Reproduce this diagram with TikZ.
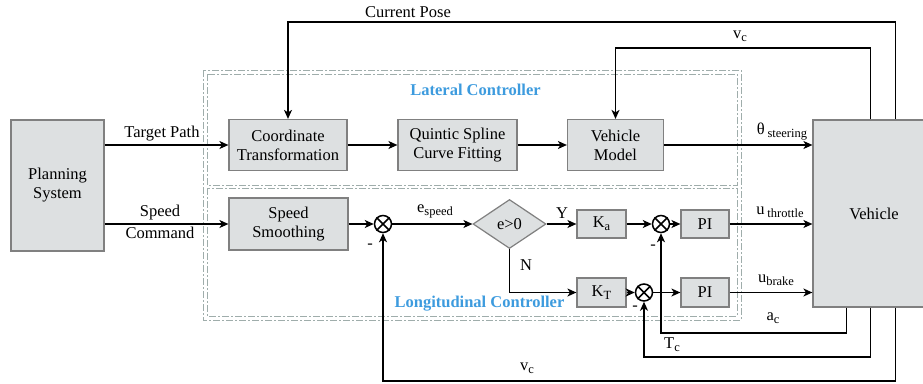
\documentclass[tikz,border=0pt]{standalone}
\usepackage{fontspec}
\setmainfont{Liberation Serif}
\usetikzlibrary{shapes.geometric,arrows.meta}
\definecolor{boxfill}{HTML}{DDE0E1}
\definecolor{boxline}{HTML}{808080}
\definecolor{frame}{HTML}{9FADAB}
\definecolor{ctrlblue}{HTML}{3D9BDE}
\newcommand\sbx[1]{\raisebox{-3pt}{\fontsize{12.5}{13}\selectfont #1}}
\begin{document}
\begin{tikzpicture}[x=1pt,y=-1pt, font=\fontsize{16.5}{19}\selectfont,
 blk/.style={draw=boxline, fill=boxfill, line width=1.2pt, inner sep=0pt, align=center},
 sumn/.style={circle, draw, line width=1.5pt, minimum size=17pt, inner sep=0pt},
 arr/.style={line width=1.4pt, -{Stealth[length=9pt,width=8pt,inset=2.5pt]}},
 ln/.style={line width=1.4pt},
 frm/.style={draw=frame, line width=1pt, dash pattern=on 7pt off 2pt on 2pt off 2pt},
 ttl/.style={text=ctrlblue, font=\fontsize{16.5}{19}\selectfont\bfseries},
 lbl/.style={inner sep=0pt}
]
\useasboundingbox (0,0) rectangle (923,383);
% frames
\draw[frm] (203,70) rectangle (741,320);
\draw[frm] (207,74) rectangle (737,185);
\draw[frm] (207,188) rectangle (737,316);
\node[ttl] (latt) at (475.5,90) {Lateral Controller};
\node[ttl] (lont) at (479.5,304) {Longitudinal Controller};
% blocks
\node[blk, minimum width=93pt, minimum height=131pt] (plan) at (57.5,185.5) {Planning\\System};
\node[blk, minimum width=118pt, minimum height=51pt] (coord) at (288,145) {Coordinate\\Transformation};
\node[blk, minimum width=119pt, minimum height=51pt] (quin) at (457.5,145) {Quintic Spline\\Curve Fitting};
\node[blk, minimum width=96pt, minimum height=51pt] (vm) at (615.5,145) {Vehicle\\Model};
\node[blk, minimum width=122pt, minimum height=187pt] (veh) at (874,213.5) {Vehicle};
\node[blk, minimum width=119pt, minimum height=52pt] (smooth) at (288.5,224) {Speed\\Smoothing};
\node[sumn] (s1) at (383,224) {};
\node[diamond, draw=boxline, fill=boxfill, line width=1.2pt, minimum width=73pt, minimum height=49pt, inner sep=0pt] (dia) at (509.5,224) {e>0};
\node[blk, minimum width=49pt, minimum height=28pt] (ka) at (601.5,224) {K\sbx{a}};
\node[sumn] (s2) at (661,224) {};
\node[blk, minimum width=48pt, minimum height=28pt] (pi1) at (705,224) {PI};
\node[blk, minimum width=49pt, minimum height=29pt] (kt) at (601.5,292.5) {K\sbx{T}};
\node[sumn] (s3) at (644,292.5) {};
\node[blk, minimum width=48pt, minimum height=29pt] (pi2) at (705,292.5) {PI};
\foreach \s in {s1,s2,s3}{
  \draw[line width=1.5pt] (\s.north east) -- (\s.south west) (\s.north west) -- (\s.south east);
}
% forward connectors
\draw[arr] (plan.east |- coord.west) -- (coord.west);
\draw[arr] (coord.east) -- (quin.west);
\draw[arr] (quin.east) -- (vm.west);
\draw[arr] (vm.east) -- (veh.west |- vm.east);
\draw[arr] (plan.east |- smooth.west) -- (smooth.west);
\draw[arr] (smooth.east) -- (s1.west);
\draw[arr] (s1.east) -- (dia.west);
\draw[arr] (dia.east) -- (ka.west);
\draw[arr] (dia.south) |- (kt.west);
\draw[arr] (ka.east) -- (s2.west);
\draw[arr] (s2.east) -- (pi1.west);
\draw[arr] (pi1.east) -- (veh.west |- pi1.east);
\draw[arr] (kt.east) -- (s3.west);
\draw[arr] (s3.east) -- (pi2.west);
\draw[arr] (pi2.east) -- (veh.west |- pi2.east);
% feedback connectors
\draw[arr] ([xshift=83pt]veh.north west) |- (288,22) -- (coord.north);
\draw[arr] ([xshift=58pt]veh.north west) |- (615.5,48) -- (vm.north);
\draw[arr] ([xshift=34pt]veh.south west) |- (661,333) -- (s2.south);
\draw[arr] ([xshift=58pt]veh.south west) |- (644,357) -- (s3.south);
\draw[arr] ([xshift=83pt]veh.south west) |- (383,381) -- (s1.south);
% labels
\node[lbl] (lcp) at (408,12) {Current Pose};
\node[lbl] (lvc1) at (740,36) {v\sbx{c}};
\node[lbl] (lth) at (782,132) {θ\,\sbx{steering}};
\node[lbl] (ltp) at (162,134) {Target Path};
\node[lbl] (lsp) at (160,213) {Speed};
\node[lbl] (lcm) at (160,233) {Command};
\node[lbl] (les) at (435,211) {e\sbx{speed}};
\node[lbl] (ly) at (562,213) {Y};
\node[lbl] (ln) at (526,265) {N};
\node[lbl] (lut) at (780,212) {u\,\sbx{throttle}};
\node[lbl] (lub) at (776,280) {u\sbx{brake}};
\node[lbl] (lac) at (773,318) {a\sbx{c}};
\node[lbl] (ltc) at (672,345) {T\sbx{c}};
\node[lbl] (lvc2) at (527,368) {v\sbx{c}};
\node[lbl] (m1) at (370,246) {-};
\node[lbl] (m2) at (653,247) {-};
\node[lbl] (m3) at (635,308) {-};
\end{tikzpicture}
\end{document}
